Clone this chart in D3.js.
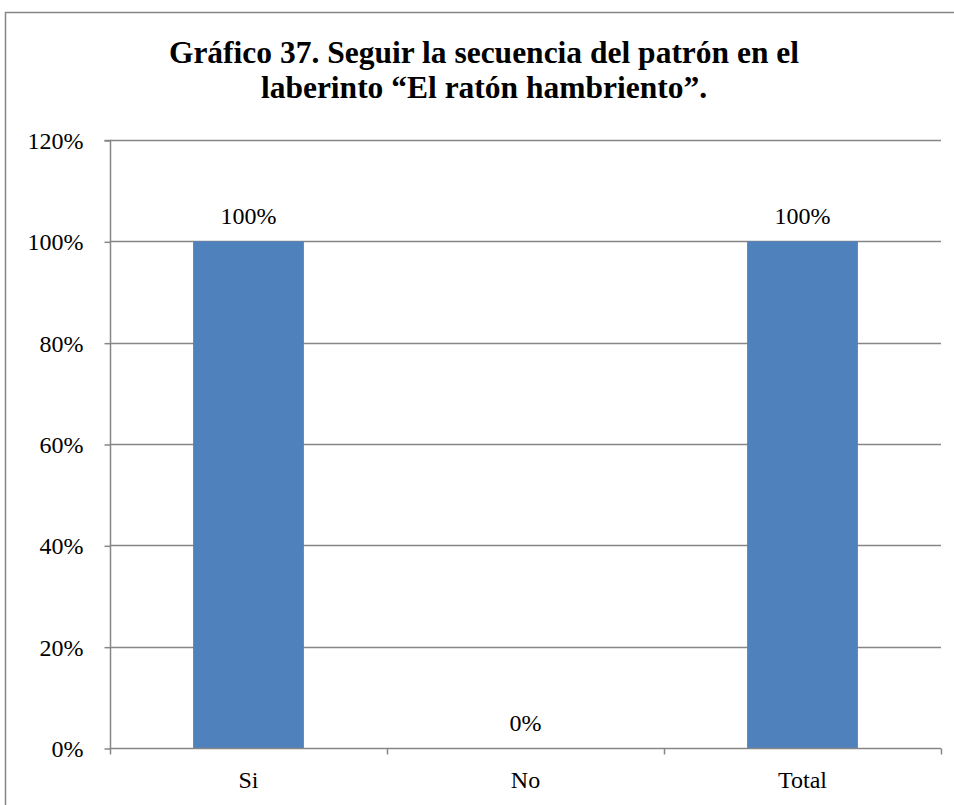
<!DOCTYPE html>
<html>
<head>
<meta charset="utf-8">
<script src="https://cdn.jsdelivr.net/npm/d3@7"></script>
</head>
<body style="margin:0">
<svg id="chart" width="954" height="805"></svg>
<script>
// Chart data
const categories = ["Si", "No", "Total"];
const values = [1.00, 0.00, 1.00];
const yTicks = [0, 0.2, 0.4, 0.6, 0.8, 1.0, 1.2];
const titleLines = ["Gráfico 37. Seguir la secuencia del patrón en el", "laberinto “El ratón hambriento”."];

const FONT = "'Liberation Serif', 'Times New Roman', FreeSerif, serif";
const svg = d3.select("#chart");
const W = 954, H = 805;
const margin = { left: 110, right: 13, top: 140, bottom: 57 };
const gridColor = "#868686";
const pct = d3.format(".0%");

// Outer chart frame
svg.append("rect")
  .attr("x", 5.5).attr("y", 12.5)
  .attr("width", 960).attr("height", 820)
  .attr("fill", "#fff").attr("stroke", gridColor).attr("stroke-width", 1.5);

const x = d3.scaleBand().domain(categories).range([margin.left, W - margin.right]).paddingInner(0.6).paddingOuter(0.3);
const xOuter = d3.scaleBand().domain(categories).range([margin.left, W - margin.right]);
const y = d3.scaleLinear().domain([0, 1.2]).range([H - margin.bottom, margin.top]);

// Horizontal gridlines
svg.append("g").selectAll("line").data(yTicks.filter(t => t > 0)).join("line")
  .attr("x1", margin.left).attr("x2", W - margin.right)
  .attr("y1", d => Math.round(y(d)) + 0.5).attr("y2", d => Math.round(y(d)) + 0.5)
  .attr("stroke", gridColor).attr("stroke-width", 1.5);

// Bars
svg.append("g").selectAll("rect").data(values).join("rect")
  .attr("x", (d, i) => x(categories[i]))
  .attr("width", x.bandwidth())
  .attr("y", d => y(d))
  .attr("height", d => y(0) - y(d))
  .attr("fill", "#4F81BD");

// Y axis
const yAxis = d3.axisLeft(y).tickValues(yTicks).tickFormat(pct).tickSize(6).tickPadding(21);
const gy = svg.append("g").attr("transform", `translate(${margin.left + 0.5},0.5)`).call(yAxis);
gy.attr("font-family", null).attr("font-size", null);
gy.selectAll("path, line").attr("stroke", gridColor).attr("stroke-width", 1.5);
gy.select(".domain").attr("d", `M-6,${y(1.2)}H0V${y(0)}`);
gy.selectAll("text").attr("fill", "#000").attr("dy", "0.33em")
  .style("font-family", FONT).style("font-size", "24px");

// X axis with ticks at category boundaries
const gx = svg.append("g").attr("transform", `translate(0,${Math.round(y(0)) + 0.5})`);
gx.append("line").attr("x1", margin.left).attr("x2", W - margin.right)
  .attr("stroke", gridColor).attr("stroke-width", 1.5);
const bounds = categories.map(c => xOuter(c)).concat([W - margin.right]);
gx.selectAll("line.tick").data(bounds).join("line").attr("class", "tick")
  .attr("x1", d => Math.round(d) + 0.5).attr("x2", d => Math.round(d) + 0.5)
  .attr("y1", 0).attr("y2", 6)
  .attr("stroke", gridColor).attr("stroke-width", 1.5);
gx.selectAll("text").data(categories).join("text")
  .attr("x", d => xOuter(d) + xOuter.bandwidth() / 2)
  .attr("y", 39)
  .attr("text-anchor", "middle")
  .style("font-family", FONT).style("font-size", "24px")
  .text(d => d);

// Data labels
svg.append("g").selectAll("text").data(values).join("text")
  .attr("x", (d, i) => xOuter(categories[i]) + xOuter.bandwidth() / 2)
  .attr("y", d => y(d) - 17)
  .attr("text-anchor", "middle")
  .style("font-family", FONT).style("font-size", "24px")
  .text(d => pct(d));

// Title (two lines)
svg.append("g").selectAll("text").data(titleLines).join("text")
  .attr("x", 484).attr("y", (d, i) => 63 + i * 35)
  .attr("text-anchor", "middle")
  .style("font-family", FONT)
  .style("font-size", "31.5px").style("font-weight", "bold")
  .text(d => d);
</script>
</body>
</html>
